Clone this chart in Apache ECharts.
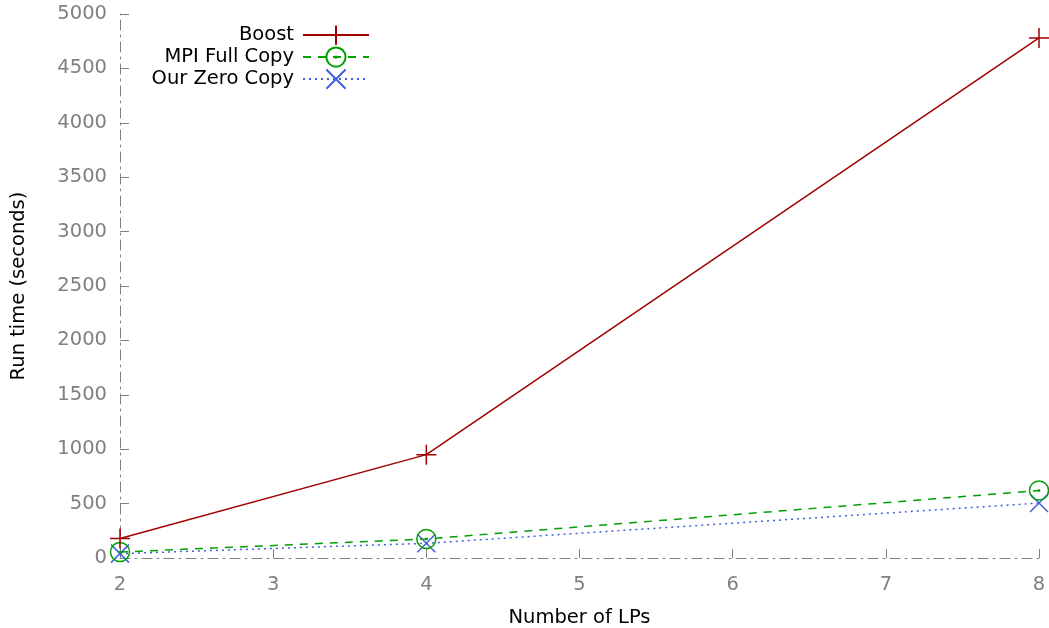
<!DOCTYPE html>
<html>
<head>
<meta charset="utf-8">
<script src="https://cdn.jsdelivr.net/npm/echarts@6/dist/echarts.min.js"></script>
<style>
  html, body { margin: 0; padding: 0; background: #fff; }
  #chart { width: 1049px; height: 628px; }
</style>
</head>
<body>
<div id="chart"></div>
<script>
// Run time versus number of logical processes
const lps = [2, 4, 8];
const boost = [180, 950, 4780];
const mpiFullCopy = [55, 175, 620];
const ourZeroCopy = [40, 135, 505];
const seriesNames = ['Boost', 'MPI Full Copy', 'Our Zero Copy'];

const FONT = 'DejaVu Sans';
const FS = 19.5;
const GREY = '#808080';

const plusPath = 'path://M0,10L20,10M10,0L10,20';
const circleDotPath = 'path://M0,10A10,10,0,1,1,20,10A10,10,0,1,1,0,10ZM9.3,10A0.7,0.7,0,1,1,10.7,10A0.7,0.7,0,1,1,9.3,10Z';
const crossPath = 'path://M0,0L20,20M20,0L0,20';

function pairs(xs, ys) { return xs.map((x, i) => [x, ys[i]]); }

const chart = echarts.init(document.getElementById('chart'), null, { renderer: 'canvas' });

function legendFor(name, top) {
  return {
    data: [name],
    right: 679,
    top: top,
    align: 'right',
    itemWidth: 66,
    itemHeight: 24,
    itemGap: 0,
    padding: 0,
    textStyle: { fontFamily: FONT, fontSize: FS, color: '#000', padding: [0, 4, 0, 0] }
  };
}

chart.setOption({
  animation: false,
  backgroundColor: '#fff',
  grid: { left: 120, right: 10, top: 14, bottom: 70, containLabel: false, outerBoundsMode: 'none' },
  legend: [legendFor(seriesNames[0], 23), legendFor(seriesNames[1], 45), legendFor(seriesNames[2], 67)],
  xAxis: {
    type: 'value', min: 2, max: 8, interval: 1,
    name: 'Number of LPs', nameLocation: 'middle', nameGap: 50,
    nameTextStyle: { fontFamily: FONT, fontSize: FS, color: '#000' },
    axisLine: { lineStyle: { color: GREY, width: 1, type: [10, 5, 2, 5] } },
    axisTick: { inside: true, length: 9, lineStyle: { color: GREY } },
    axisLabel: { fontFamily: FONT, fontSize: FS, color: GREY, margin: 17 },
    splitLine: { show: false }
  },
  yAxis: {
    type: 'value', min: 0, max: 5000, interval: 500,
    name: 'Run time (seconds)', nameLocation: 'middle', nameGap: 91,
    nameTextStyle: { fontFamily: FONT, fontSize: FS, color: '#000' },
    axisLine: { show: true, lineStyle: { color: GREY, width: 1, type: [10, 5, 2, 5] } },
    axisTick: { show: true, inside: true, length: 9, lineStyle: { color: GREY } },
    axisLabel: { fontFamily: FONT, fontSize: FS, color: GREY, margin: 13, formatter: v => String(v) },
    splitLine: { show: false }
  },
  series: [
    {
      name: seriesNames[0], type: 'line', data: pairs(lps, boost),
      symbol: plusPath, symbolSize: 20,
      lineStyle: { color: '#a00000', width: 1.5, type: 'solid' },
      itemStyle: { color: 'none', borderColor: '#a00000', borderWidth: 1.5 },
      z: 3
    },
    {
      name: seriesNames[1], type: 'line', data: pairs(lps, mpiFullCopy),
      symbol: circleDotPath, symbolSize: 19,
      lineStyle: { color: '#00a000', width: 1.5, type: [8, 7] },
      itemStyle: { color: 'none', borderColor: '#00a000', borderWidth: 1.5 },
      z: 2
    },
    {
      name: seriesNames[2], type: 'line', data: pairs(lps, ourZeroCopy),
      symbol: crossPath, symbolSize: 18,
      lineStyle: { color: '#4060e0', width: 1.5, type: [2, 4] },
      itemStyle: { color: 'none', borderColor: '#4060e0', borderWidth: 1.5 },
      z: 1
    }
  ]
});
</script>
</body>
</html>
